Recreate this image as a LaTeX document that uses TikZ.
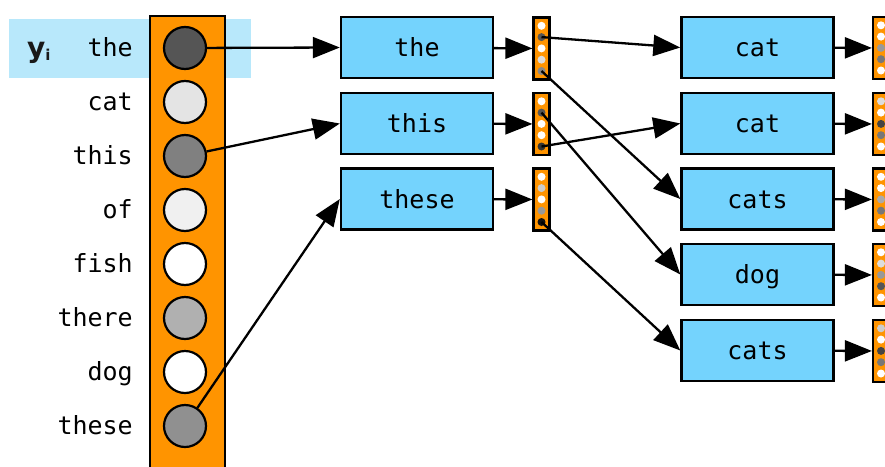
\documentclass[tikz,border=0pt]{standalone}
\usepackage{fontspec}
\setmainfont{DejaVu Sans}
\newfontfamily\monof{DejaVu Sans Mono}
\newfontfamily\yfont{DejaVu Sans}
\usetikzlibrary{arrows.meta}
\definecolor{boxblue}{HTML}{74D3FD}
\definecolor{hiblue}{HTML}{B8E8FB}
\definecolor{vorange}{HTML}{FF9400}
\begin{document}
\begin{tikzpicture}[x=1pt,y=-1pt,
 box/.style={draw=black,line width=2.4pt,fill=boxblue,minimum width=152pt,minimum height=61pt,inner sep=0pt,text height=19pt,text depth=1pt,font=\monof\fontsize{25}{30}\selectfont},
 big/.style={circle,draw=black,line width=2.2pt,minimum size=42pt,inner sep=0pt},
 vec/.style={draw=black,line width=2.2pt,fill=vorange,minimum width=16pt,minimum height=62pt,inner sep=0pt},
 dot/.style={circle,minimum size=8pt,inner sep=0pt},
 lbl/.style={anchor=base east,inner sep=0pt,font=\monof\fontsize{25}{30}\selectfont},
 arr/.style={-{Triangle[length=27pt,width=21pt]},line width=2.3pt}]
\useasboundingbox (0,0) rectangle (885,466);
% highlight
\fill[hiblue] (9,19) rectangle (251,78);
\node[anchor=base west,inner sep=0pt,font=\yfont\bfseries\fontsize{28}{30}\selectfont,text=black!90] (yi) at (27,57) {y\raisebox{-3pt}{\fontsize{15}{15}\selectfont i}};
% big column
\node[draw=black,line width=2.4pt,fill=vorange,minimum width=75pt,minimum height=470pt,inner sep=0pt,anchor=north west] (col) at (149,15) {};
% circles
\foreach \n/\y/\c in {1/48/555555,2/102/E4E4E4,3/156/808080,4/210/F0F0F0,5/264/FFFFFF,6/318/B0B0B0,7/372/FFFFFF,8/426/909090}{
  \definecolor{tmpc}{HTML}{\c}
  \node[big,fill=tmpc] (c\n) at (185,\y) {};
}
% labels
\foreach \n/\y/\t in {1/48/the,2/102/cat,3/156/this,4/210/of,5/264/fish,6/318/there,7/372/dog,8/426/these}{
  \node[lbl] (l\n) at (133,\y+8) {\t};
}
% middle boxes
\node[box] (b1) at (417,47.5) {the};
\node[box] (b2) at (417,123.5) {this};
\node[box] (b3) at (417,199) {these};
% middle vectors
\node[vec] (v1) at (541.5,48.5) {};
\node[vec] (v2) at (541.5,124) {};
\node[vec] (v3) at (541.5,199.5) {};
\foreach \v/\cy/\ca/\cb/\cc/\cd/\ce in {1/48.5/FFFFFF/555555/FFFFFF/DDDDDD/888888,2/124/FFFFFF/555555/FFFFFF/FFFFFF/333333,3/199.5/FFFFFF/CCCCCC/FFFFFF/999999/111111}{
  \foreach \k/\c in {1/\ca,2/\cb,3/\cc,4/\cd,5/\ce}{
    \definecolor{tmpc}{HTML}{\c}
    \node[dot,fill=tmpc] (d\v\k) at (541.5,\cy-34+\k*11.3) {};
  }
}
% right boxes
\node[box] (r1) at (757.5,47.5) {cat};
\node[box] (r2) at (757.5,123.5) {cat};
\node[box] (r3) at (757.5,199) {cats};
\node[box] (r4) at (757.5,274.5) {dog};
\node[box] (r5) at (757.5,350.5) {cats};
% right vectors
\node[vec] (w1) at (881,48) {};
\node[vec] (w2) at (881,124) {};
\node[vec] (w3) at (881,199.5) {};
\node[vec] (w4) at (881,275) {};
\node[vec] (w5) at (881,351) {};
\foreach \v/\cy/\ca/\cb/\cc/\cd/\ce in {1/48/FFFFFF/FFFFFF/999999/777777/FFFFFF,2/124/DDDDDD/FFFFFF/444444/777777/FFFFFF,3/199.5/FFFFFF/FFFFFF/AAAAAA/777777/FFFFFF,4/275/FFFFFF/DDDDDD/999999/555555/FFFFFF,5/351/CCCCCC/FFFFFF/444444/777777/FFFFFF}{
  \foreach \k/\c in {1/\ca,2/\cb,3/\cc,4/\cd,5/\ce}{
    \definecolor{tmpc}{HTML}{\c}
    \node[dot,fill=tmpc] (e\v\k) at (881,\cy-34+\k*11.3) {};
  }
}
% arrows from big column
\draw[arr] (c1) -- (b1.west);
\draw[arr] (c3) -- (b2.west);
\draw[arr] (c8) -- (b3.west);
% box to vectors
\draw[arr] (b1) -- (v1);
\draw[arr] (b2) -- (v2);
\draw[arr] (b3) -- (v3);
\draw[arr] (r1) -- (w1);
\draw[arr] (r2) -- (w2);
\draw[arr] (r3) -- (w3);
\draw[arr] (r4) -- (w4);
\draw[arr] (r5) -- (w5);
% vector dots to next boxes
\draw[arr] (d12.center) -- (r1.west);
\draw[arr] (d15.center) -- (r3.west);
\draw[arr] (d22.center) -- (r4.west);
\draw[arr] (d25.center) -- (r2.west);
\draw[arr] (d35.center) -- (r5.west);
\end{tikzpicture}
\end{document}
